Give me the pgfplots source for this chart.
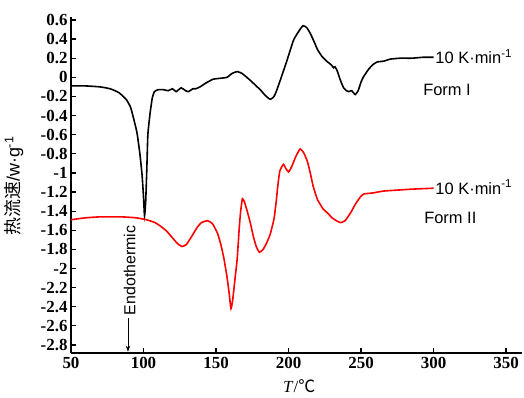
\documentclass[border=0pt]{standalone}
\usepackage{fontspec}
\setmainfont{Liberation Serif}
\newfontfamily\sansf{Liberation Sans}
\newfontfamily\cjk{Noto Sans CJK SC}
\usepackage{pgfplots}
\pgfplotsset{compat=1.18}
\usetikzlibrary{arrows.meta}
\begin{document}
\begin{tikzpicture}
\begin{axis}[
  scale only axis, width=451bp, height=336bp,
  at={(0,0)}, anchor=south west,
  xmin=50, xmax=361, ymin=-2.884, ymax=0.631,
  axis x line*=bottom, axis y line*=left,
  axis line style={line width=1.4pt},
  tick style={line width=1.2pt, black},
  tick align=inside, major tick length=5bp,
  xtick={50,100,...,350},
  ytick={-2.8,-2.6,...,0.61},
  /pgf/number format/assume math mode=true,
  /pgf/number format/fixed,
  ticklabel style={font=\fontsize{17}{17}\selectfont\bfseries},
  yticklabel style={xshift=0bp},
  xticklabel style={yshift=-1bp},
  clip=false,
]
\addplot[black, line width=1.6pt, smooth, tension=0.3] coordinates {
(50,-0.09) (60,-0.09) (70,-0.10) (77,-0.12) (83,-0.16) (88,-0.23) (91,-0.31)
(93,-0.42) (95.5,-0.58) (97.5,-0.80) (99,-1.02) (100,-1.25) (100.7,-1.45)
(101.5,-1.30) (102.3,-0.95) (103,-0.60) (104.5,-0.38) (106,-0.22) (107.5,-0.15)
(110,-0.13) (114,-0.13) (117,-0.14) (120,-0.12) (122.5,-0.15) (126,-0.11)
(129,-0.14) (131,-0.15) (134,-0.12) (136,-0.12) (139,-0.10) (143,-0.06)
(148,-0.02) (153,-0.01) (157.6,0.00) (161,0.04) (164.5,0.06) (168,0.04)
(173.5,-0.03) (177,-0.08) (180.5,-0.13) (184,-0.19) (187.4,-0.23) (190,-0.20)
(192,-0.13) (195,0.00) (199,0.18) (203.5,0.39) (207,0.48) (210,0.54)
(212.5,0.52) (215,0.46) (218,0.36) (220,0.29) (223,0.22) (227,0.16)
(229.5,0.13) (231,0.10) (232,0.11) (233.5,0.07) (236,-0.04) (238,-0.11)
(240,-0.14) (241.5,-0.15) (243.5,-0.14) (246,-0.18) (248,-0.14) (250,-0.05)
(251.5,0.00) (255,0.08) (258,0.13) (261,0.16) (266,0.17) (270,0.19)
(277,0.20) (285,0.20) (293,0.21) (300,0.21)
};
\addplot[red, line width=1.6pt, smooth, tension=0.3] coordinates {
(50,-1.49) (60,-1.47) (70,-1.46) (85,-1.46) (95,-1.47) (102,-1.49) (108,-1.52)
(112,-1.56) (116,-1.61) (120,-1.68) (123.5,-1.74) (126.5,-1.77) (129.5,-1.75)
(133,-1.67) (137,-1.57) (140,-1.52) (144,-1.50) (147.5,-1.53) (151,-1.63)
(153.5,-1.76) (155.5,-1.90) (157.5,-2.08) (159,-2.25) (160.3,-2.42)
(161.5,-2.33) (163,-2.12) (164.6,-1.90) (166,-1.58) (167,-1.40) (168.2,-1.27)
(169.5,-1.30) (171.5,-1.40) (173.6,-1.52) (176,-1.68) (178,-1.78) (180,-1.83)
(182.5,-1.80) (185,-1.73) (187.4,-1.64) (190,-1.48) (191.5,-1.30)
(192.5,-1.15) (194,-0.98) (196.5,-0.91) (198,-0.95) (200,-0.99) (202,-0.94)
(205,-0.83) (208,-0.75) (210.5,-0.79) (213,-0.88) (215,-1.00) (217,-1.14)
(220,-1.28) (224,-1.38) (227,-1.42) (230,-1.47) (233,-1.50) (235.8,-1.52)
(239,-1.50) (242.7,-1.42) (246,-1.33) (249.6,-1.25) (252,-1.22) (258,-1.21)
(265.5,-1.19) (275,-1.18) (285,-1.17) (300,-1.16)
};
\node[anchor=west, inner sep=0pt, font=\sansf\fontsize{16.5}{16.5}\selectfont] at (axis cs:301.2,0.215) {10 K·min\textsuperscript{-1}};
\node[anchor=west, inner sep=0pt, font=\sansf\fontsize{16.5}{16.5}\selectfont] at (axis cs:301.2,-1.15) {10 K·min\textsuperscript{-1}};
\node[anchor=west, inner sep=0pt, font=\sansf\fontsize{16.5}{16.5}\selectfont] at (axis cs:292.8,-0.13) {Form I};
\node[anchor=west, inner sep=0pt, font=\sansf\fontsize{16.5}{16.5}\selectfont] at (axis cs:293.5,-1.47) {Form II};
\node[rotate=90, anchor=east, inner sep=0pt, font=\sansf\fontsize{16}{16}\selectfont] at (axis cs:90.5,-1.55) {Endothermic};
\draw[-{Stealth[length=6bp,width=4.5bp]}, line width=0.8pt] (axis cs:89.3,-2.52) -- (axis cs:89.3,-2.87);
\node[rotate=90, font=\fontsize{18}{18}\selectfont] at ([xshift=-57bp]rel axis cs:0,0.497) {{\cjk 热流速}{\sansf/w·g\textsuperscript{-1}}};
\node[font=\fontsize{17}{17}\selectfont] at ([yshift=-33bp]rel axis cs:0.506,0) {\textit{T}/{\cjk ℃}};
\end{axis}
\pgfresetboundingbox
\path[use as bounding box] (-71bp,-45bp) rectangle (453bp,353bp);
\end{tikzpicture}
\end{document}
